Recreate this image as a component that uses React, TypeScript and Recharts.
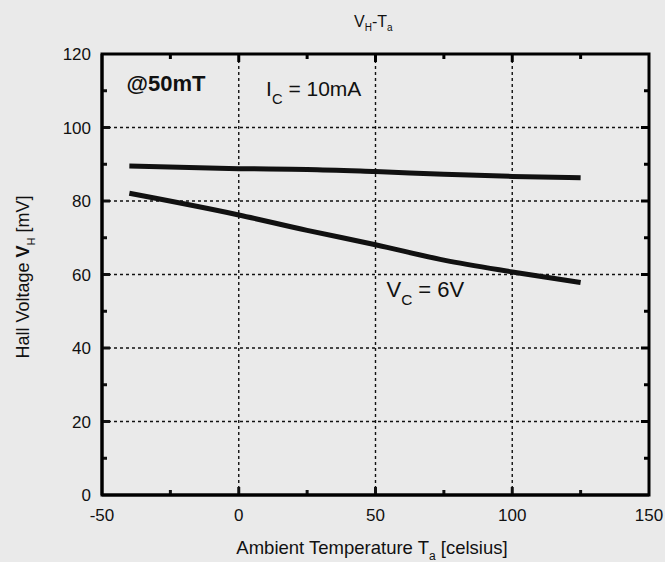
import React from 'react';
import { LineChart, Line, XAxis, YAxis, ReferenceLine, ReferenceDot } from 'recharts';

// temperatures (celsius) and Hall voltage (mV)
const temps = [-40, 0, 25, 50, 75, 100, 125];
const vhConstCurrent = [89.5, 88.8, 88.6, 88.0, 87.3, 86.7, 86.3];
const vhConstVoltage = [82.1, 76.2, 72.0, 68.1, 63.9, 60.7, 57.8];

const xTicks = [-50, -25, 0, 25, 50, 75, 100, 125, 150];
const yTicks = [0, 10, 20, 30, 40, 50, 60, 70, 80, 90, 100, 110, 120];
const xGrid = [0, 50, 100];
const yGrid = [20, 40, 60, 80, 100];

const data = temps.map((t, i) => ({ t, ic: vhConstCurrent[i], vc: vhConstVoltage[i] }));

const INK = '#111';
const FONT = '"Liberation Sans", Arial, sans-serif';

// plot box (follows from the chart margins and axis sizes below)
const BOX = { left: 102, right: 649, top: 54, bottom: 495 };
const px = (v: number) => BOX.left + ((v + 50) / 200) * (BOX.right - BOX.left);
const py = (v: number) => BOX.bottom - (v / 120) * (BOX.bottom - BOX.top);

const tickLen = (major: boolean) => (major ? 8 : 5);

const BottomTick = (props: any) => {
  const { x, y, payload } = props;
  const v = payload.value;
  const major = v % 50 === 0;
  return (
    <g>
      {v > -50 && v < 150 && (
        <line x1={x} x2={x} y1={y} y2={y - tickLen(major)} stroke={INK} strokeWidth={3} />
      )}
      {major && (
        <text x={x} y={y + 26} textAnchor="middle" fontSize={17} fontFamily={FONT} fill={INK}>
          {v}
        </text>
      )}
    </g>
  );
};

const LeftTick = (props: any) => {
  const { x, y, payload } = props;
  const v = payload.value;
  const major = v % 20 === 0;
  return (
    <g>
      {v > 0 && v < 120 && (
        <line x1={x} x2={x + tickLen(major)} y1={y} y2={y} stroke={INK} strokeWidth={3} />
      )}
      {major && (
        <text x={x - 11} y={y + 6} textAnchor="end" fontSize={17} fontFamily={FONT} fill={INK}>
          {v}
        </text>
      )}
    </g>
  );
};

// text anchored at a data position (left edge, baseline)
const note = (main: string, sub: string, rest: string, size: number, bold = false) => (props: any) => (
  <text x={props.cx} y={props.cy} fontSize={size} fontFamily={FONT} fill={INK} fontWeight={bold ? 'bold' : 'normal'}>
    {main}
    {sub && (
      <tspan fontSize={size * 0.7} dy={8}>
        {sub}
      </tspan>
    )}
    {rest && <tspan dy={sub ? -8 : 0}>{rest}</tspan>}
  </text>
);

const App: React.FC = () => {
  return (
    <div style={{ position: 'absolute', left: 0, top: 0, width: 665, height: 562, background: '#eaeaea' }}>
      <svg
        width={665}
        height={562}
        style={{ position: 'absolute', left: 0, top: 0, zIndex: 5, pointerEvents: 'none', overflow: 'visible' }}
      >
        <rect
          x={BOX.left}
          y={BOX.top}
          width={BOX.right - BOX.left}
          height={BOX.bottom - BOX.top}
          fill="none"
          stroke="#000"
          strokeWidth={3}
        />
        {xTicks
          .filter((v) => v > -50 && v < 150)
          .map((v) => (
            <line key={'tt' + v} x1={px(v)} x2={px(v)} y1={BOX.top} y2={BOX.top + tickLen(v % 50 === 0)} stroke="#000" strokeWidth={3} />
          ))}
        {yTicks
          .filter((v) => v > 0 && v < 120)
          .map((v) => (
            <line key={'rt' + v} x1={BOX.right} x2={BOX.right - tickLen(v % 20 === 0)} y1={py(v)} y2={py(v)} stroke="#000" strokeWidth={3} />
          ))}
      </svg>
      <LineChart width={665} height={562} data={data} margin={{ top: 54, right: 16, bottom: 27, left: 42 }}>
        <XAxis
          dataKey="t"
          type="number"
          domain={[-50, 150]}
          ticks={xTicks}
          interval={0}
          height={40}
          tickSize={0}
          tickMargin={0}
          tick={<BottomTick />}
          axisLine={{ stroke: INK, strokeWidth: 3 }}
        />
        <YAxis
          type="number"
          domain={[0, 120]}
          ticks={yTicks}
          interval={0}
          width={60}
          tickSize={0}
          tickMargin={0}
          tick={<LeftTick />}
          axisLine={{ stroke: INK, strokeWidth: 3 }}
        />
        {xGrid.map((v) => (
          <ReferenceLine key={'x' + v} x={v} stroke={INK} strokeWidth={1.4} strokeDasharray="3 3" />
        ))}
        {yGrid.map((v) => (
          <ReferenceLine key={'y' + v} y={v} stroke={INK} strokeWidth={1.4} strokeDasharray="3 3" />
        ))}
        <Line type="monotone" dataKey="ic" stroke={INK} strokeWidth={5} dot={false} isAnimationActive={false} />
        <Line type="monotone" dataKey="vc" stroke={INK} strokeWidth={5} dot={false} isAnimationActive={false} />
        <ReferenceDot x={-41} y={110} r={0} shape={note('@50mT', '', '', 22, true)} />
        <ReferenceDot x={10} y={108.5} r={0} shape={note('I', 'C', ' = 10mA', 21)} />
        <ReferenceDot x={54} y={54} r={0} shape={note('V', 'C', ' = 6V', 22)} />
      </LineChart>
      <svg width={665} height={562} style={{ position: 'absolute', left: 0, top: 0, pointerEvents: 'none' }}>
        <text x={354} y={27} fontSize={16} fontFamily={FONT} fill={INK}>
          V<tspan fontSize={10} dy={4}>H</tspan>
          <tspan dy={-4}>-T</tspan>
          <tspan fontSize={10} dy={4}>a</tspan>
        </text>
        <text x={372} y={554} textAnchor="middle" fontSize={18.5} fontFamily={FONT} fill={INK}>
          Ambient Temperature T<tspan fontSize={12} dy={6}>a</tspan>
          <tspan dy={-6}> [celsius]</tspan>
        </text>
        <text transform="translate(29,277) rotate(-90)" textAnchor="middle" fontSize={18} fontFamily={FONT} fill={INK}>
          Hall Voltage <tspan fontWeight="bold">V</tspan>
          <tspan fontSize={11} dy={6}>H</tspan>
          <tspan dy={-6}> [mV]</tspan>
        </text>
      </svg>
    </div>
  );
};

export default App;
